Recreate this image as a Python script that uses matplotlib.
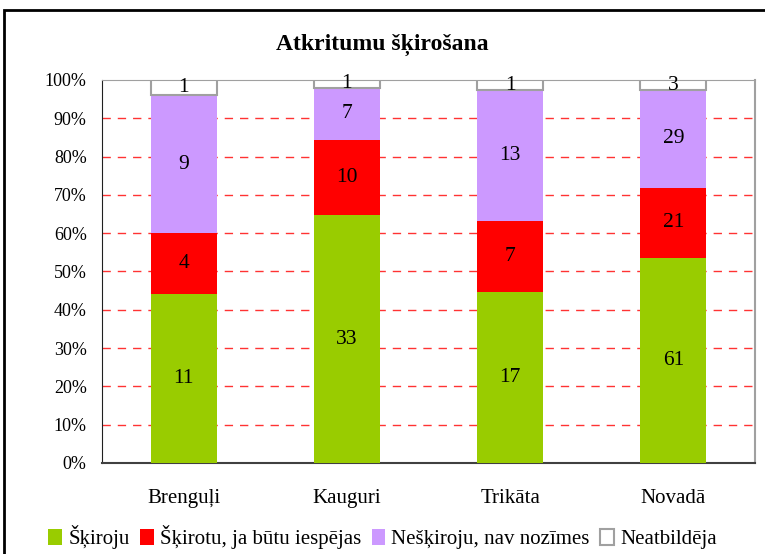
import numpy as np
import matplotlib.pyplot as plt
from matplotlib.patches import Rectangle
from matplotlib.ticker import PercentFormatter

plt.rcParams['font.family'] = ['Liberation Serif', 'DejaVu Serif']

regions = ['Brenguļi', 'Kauguri', 'Trikāta', 'Novadā']
answers = ['Šķiroju', 'Šķirotu, ja būtu iespējas', 'Nešķiroju, nav nozīmes', 'Neatbildēja']
counts = [
    [11, 33, 17, 61],   # Šķiroju
    [4, 10, 7, 21],     # Šķirotu, ja būtu iespējas
    [9, 7, 13, 29],     # Nešķiroju, nav nozīmes
    [1, 1, 1, 3],       # Neatbildēja
]
colors = ['#99CC00', '#FF0000', '#CC99FF', '#FFFFFF']

counts = np.array(counts, dtype=float)
shares = counts / counts.sum(axis=0) * 100

fig = plt.figure(figsize=(7.65, 5.54), dpi=100)
ax = fig.add_axes([0.1333, 0.1643, 0.8537, 0.6913])

x = np.arange(len(regions))
bottom = np.zeros(len(regions))
for i in range(len(answers)):
    if colors[i] == '#FFFFFF':
        bars = ax.bar(x, shares[i], 0.405, bottom=bottom, color=colors[i],
                      edgecolor='#A0A0A0', linewidth=1.5, label=answers[i], zorder=3)
    else:
        bars = ax.bar(x, shares[i], 0.405, bottom=bottom, color=colors[i],
                      linewidth=0, label=answers[i], zorder=3)
    for j in range(len(regions)):
        ax.text(x[j], bottom[j] + shares[i][j] / 2, '%d' % counts[i][j],
                ha='center', va='center', fontsize=15.5, zorder=4)
    bottom += shares[i]

ax.set_xlim(-0.5, 3.5)
ax.set_ylim(0, 100)
ax.set_yticks(np.arange(0, 101, 10))
ax.yaxis.set_major_formatter(PercentFormatter(decimals=0))
ax.set_xticks(x)
ax.set_xticklabels(regions)
ax.tick_params(axis='y', length=0, pad=11, labelsize=13)
ax.tick_params(axis='x', length=0, pad=19, labelsize=15)

# dashed red gridlines at the inner ticks
for v in range(10, 100, 10):
    ax.axhline(v, color='#FF0000', linestyle=(0, (6, 5)), linewidth=1, alpha=0.8, zorder=1)

ax.spines['left'].set_color('#202020')
ax.spines['bottom'].set_color('#404040')
ax.spines['bottom'].set_linewidth(1.5)
ax.spines['top'].set_color('#A0A0A0')
ax.spines['right'].set_color('#A0A0A0')
ax.spines['right'].set_linewidth(1.5)

fig.text(0.5, 0.918, 'Atkritumu šķirošana', ha='center', va='center',
         fontsize=17, fontweight='bold')

fig.legend(loc='center', bbox_to_anchor=(0.5, 0.03), ncol=4, frameon=False,
           fontsize=15, handlelength=0.65, handleheight=0.75, handletextpad=0.3,
           columnspacing=0.5)

# outer frame around the chart
fig.patches.append(Rectangle((4 / 765, -0.05), 1.5, 1.032, transform=fig.transFigure,
                             fill=False, edgecolor='black', linewidth=2))

fig.savefig('out.png', dpi=100)
